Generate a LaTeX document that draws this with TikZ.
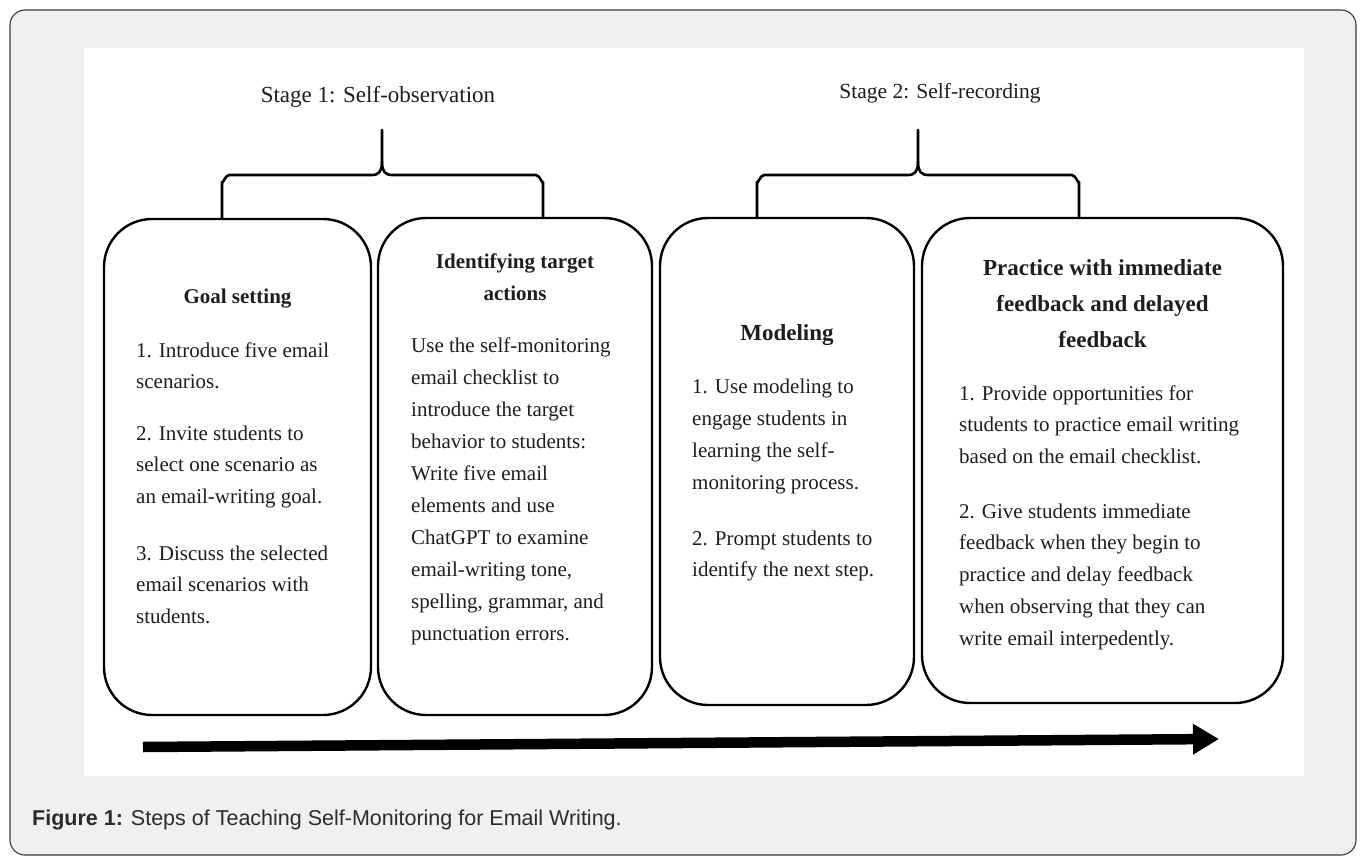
\documentclass[tikz,border=0pt]{standalone}
\usepackage{fontspec}
\setmainfont{Liberation Serif}
\newfontfamily\capfont{Liberation Sans}
\usetikzlibrary{arrows.meta}
\definecolor{panelgray}{HTML}{EFF0F2}
\definecolor{panelline}{HTML}{3A3A3A}
\definecolor{ink}{HTML}{1E1E1E}
\definecolor{capink}{HTML}{2B2B2B}
\begin{document}
\begin{tikzpicture}[x=1pt,y=-1pt,
  boxshape/.style={draw=black, line width=2.4pt, rounded corners=48pt, inner sep=0pt},
  body/.style={anchor=base west, align=left, inner sep=0pt, text=ink, font=\fontsize{21}{31.75}\selectfont},
  ttl/.style={anchor=base, align=center, inner sep=0pt, text=ink, font=\fontsize{21}{32}\selectfont\bfseries},
  ttlbig/.style={anchor=base, align=center, inner sep=0pt, text=ink, font=\fontsize{23}{36}\selectfont\bfseries},
  stagelbl/.style={anchor=base, inner sep=0pt, text=ink, font=\fontsize{23}{28}\selectfont},
  brace/.style={draw=black, line width=2.6pt, line cap=round, line join=round},
  flow/.style={draw=black, line width=10.5pt, -{Triangle[length=26pt,width=29pt]}}
]
\useasboundingbox (0,0) rectangle (1366,864);
% panel
\draw[fill=panelgray, draw=panelline, line width=1.1pt, rounded corners=15pt] (10,10) rectangle (1356,855);
\fill[white] (84,48) rectangle (1304,776);

% boxes
\node[boxshape, minimum width=267pt, minimum height=496pt] (b1) at (237.5,467) {};
\node[boxshape, minimum width=274pt, minimum height=497pt] (b2) at (515,466.5) {};
\node[boxshape, minimum width=254pt, minimum height=487pt] (b3) at (787,461.5) {};
\node[boxshape, minimum width=361pt, minimum height=485pt] (b4) at (1102.5,460.5) {};

% (multi-line nodes: the base anchor is the baseline of the last line)
% box 1
\node[ttl] (t1) at (237.5,303) {Goal setting};
\node[body] (p11) at (136,388.75) {1. Introduce five email\\scenarios.};
\node[body] (p12) at (136,503.5) {2. Invite students to\\select one scenario as\\an email-writing goal.};
\node[body] (p13) at (136,623.5) {3. Discuss the selected\\email scenarios with\\students.};

% box 2
\node[ttl] (t2) at (515,300) {Identifying target\\actions};
\node[body, font=\fontsize{21}{32}\selectfont] (p21) at (411,640) {Use the self-monitoring\\email checklist to\\introduce the target\\behavior to students:\\Write five email\\elements and use\\ChatGPT to examine\\email-writing tone,\\spelling, grammar, and\\punctuation errors.};

% box 3
\node[ttlbig] (t3) at (787,340) {Modeling};
\node[body, font=\fontsize{21}{32.3}\selectfont] (p31) at (692,489.9) {1. Use modeling to\\engage students in\\learning the self-\\monitoring process.};
\node[body] (p32) at (692,576.75) {2. Prompt students to\\identify the next step.};

% box 4
\node[ttlbig] (t4) at (1102.5,347) {Practice with immediate\\feedback and delayed\\feedback};
\node[body] (p41) at (959,463.5) {1. Provide opportunities for\\students to practice email writing\\based on the email checklist.};
\node[body] (p42) at (959,645) {2. Give students immediate\\feedback when they begin to\\practice and delay feedback\\when observing that they can\\write email interpedently.};

% stage labels
\node[stagelbl] (s1) at (378,103) {Stage 1: Self-observation};
\node[stagelbl, font=\fontsize{21.5}{26}\selectfont] (s2) at (940,99) {Stage 2: Self-recording};

% brace 1
\coordinate (s1tip) at (382,130);
\coordinate (s1l) at ([xshift=-15.5pt]b1.north);
\coordinate (s1r) at ([xshift=28pt]b2.north);
\draw[brace] (s1l) -- (s1l |- 0,182) to[out=-90,in=180] (229,175) -- (372,175)
  .. controls (379,175) and (382,171) .. (382,162) -- (s1tip);
\draw[brace] (s1r) -- (s1r |- 0,182) to[out=-90,in=0] (536,175) -- (392,175)
  .. controls (385,175) and (382,171) .. (382,162);

% brace 2
\coordinate (s2tip) at (918,130);
\coordinate (s2l) at ([xshift=-30pt]b3.north);
\coordinate (s2r) at ([xshift=-23.5pt]b4.north);
\draw[brace] (s2l) -- (s2l |- 0,182) to[out=-90,in=180] (764,175) -- (908,175)
  .. controls (915,175) and (918,171) .. (918,162) -- (s2tip);
\draw[brace] (s2r) -- (s2r |- 0,182) to[out=-90,in=0] (1072,175) -- (928,175)
  .. controls (921,175) and (918,171) .. (918,162);

% progress arrow
\coordinate (as) at (143,747);
\coordinate (ae) at (1219,739);
\draw[flow] (as) -- (ae);

% caption
\node[anchor=base west, inner sep=0pt, text=capink, font=\capfont\fontsize{21.5}{25}\selectfont] (cap) at (32,825) {\textbf{Figure 1:} Steps of Teaching Self-Monitoring for Email Writing.};
\end{tikzpicture}
\end{document}
